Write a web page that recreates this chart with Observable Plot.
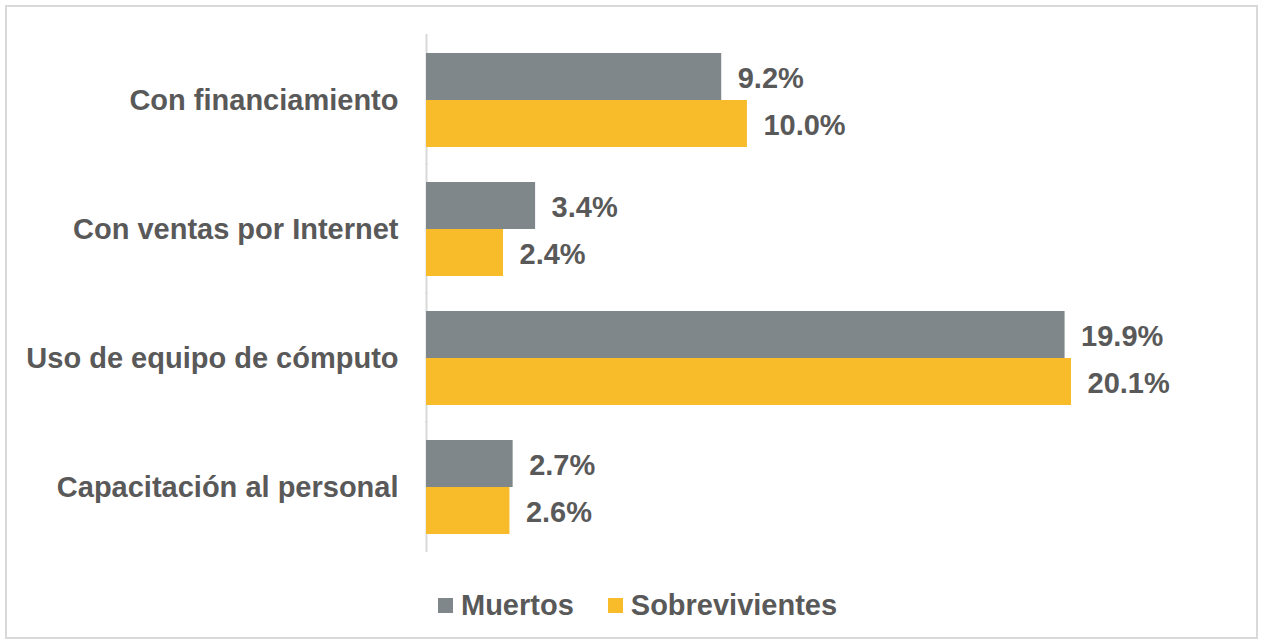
<!DOCTYPE html>
<html>
<head>
<meta charset="utf-8">
<script src="https://cdn.jsdelivr.net/npm/d3@7"></script>
<script src="https://cdn.jsdelivr.net/npm/@observablehq/plot@0.6"></script>
<style>
  html, body { margin: 0; padding: 0; background: #fff; }
  #wrap { position: relative; width: 1261px; height: 642px; overflow: hidden; font-family: "Liberation Sans", Arial, sans-serif; }
  #border { position: absolute; left: 5px; top: 5px; width: 1253px; height: 634px; box-sizing: border-box; border: 2px solid #d9d9d9; }
  #chart { position: absolute; left: 0; top: 0; }
  #legend { position: absolute; left: 438px; top: 589px; display: flex; align-items: center; font-size: 29px; font-weight: bold; color: #595959; white-space: nowrap; }
  #legend .item { display: flex; align-items: center; margin-right: 34px; }
  #legend .sw { width: 15px; height: 15px; margin-right: 8px; }
</style>
</head>
<body>
<div id="wrap">
  <div id="border"></div>
  <div id="chart"></div>
  <div id="legend"></div>
</div>
<script>
const categories = ["Con financiamiento", "Con ventas por Internet", "Uso de equipo de cómputo", "Capacitación al personal"];
const series = ["Muertos", "Sobrevivientes"];
const muertos = [9.2, 3.4, 19.9, 2.7];
const sobrevivientes = [10.0, 2.4, 20.1, 2.6];
const colors = ["#7f878b", "#f8bc2a"];

const data = categories.flatMap((c, i) => [
  {cat: c, s: series[0], v: muertos[i]},
  {cat: c, s: series[1], v: sobrevivientes[i]}
]);

const chart = Plot.plot({
  width: 1261,
  height: 570,
  marginLeft: 426,
  marginRight: 190,
  marginTop: 36,
  marginBottom: 18,
  style: {fontFamily: "'Liberation Sans', Arial, sans-serif", background: "transparent"},
  x: {domain: [0, 20.1], axis: null},
  fy: {domain: categories, paddingInner: 0.27, paddingOuter: 0.135, axis: null},
  y: {domain: series, padding: 0, axis: null},
  color: {domain: series, range: colors},
  marks: [
    Plot.ruleX([0], {stroke: "#d9d9d9", strokeWidth: 2, insetTop: -19, insetBottom: -18}),
    Plot.barX(data, {fy: "cat", y: "s", x: "v", fill: "s"}),
    Plot.text(data, {fy: "cat", y: "s", x: "v", text: d => d.v.toFixed(1) + "%", dx: 16, dy: 2, textAnchor: "start", fontSize: 29, fontWeight: "bold", fill: "#595959"}),
    Plot.axisFy({anchor: "left", tickSize: 0, tickPadding: 28, dy: 0, fontSize: 29, fontWeight: "bold", fill: "#595959", label: null})
  ]
});
document.getElementById("chart").appendChild(chart);

const legend = document.getElementById("legend");
series.forEach((s, i) => {
  const item = document.createElement("div");
  item.className = "item";
  const sw = document.createElement("div");
  sw.className = "sw";
  sw.style.background = colors[i];
  const t = document.createElement("span");
  t.textContent = s;
  item.appendChild(sw);
  item.appendChild(t);
  legend.appendChild(item);
});
</script>
</body>
</html>
